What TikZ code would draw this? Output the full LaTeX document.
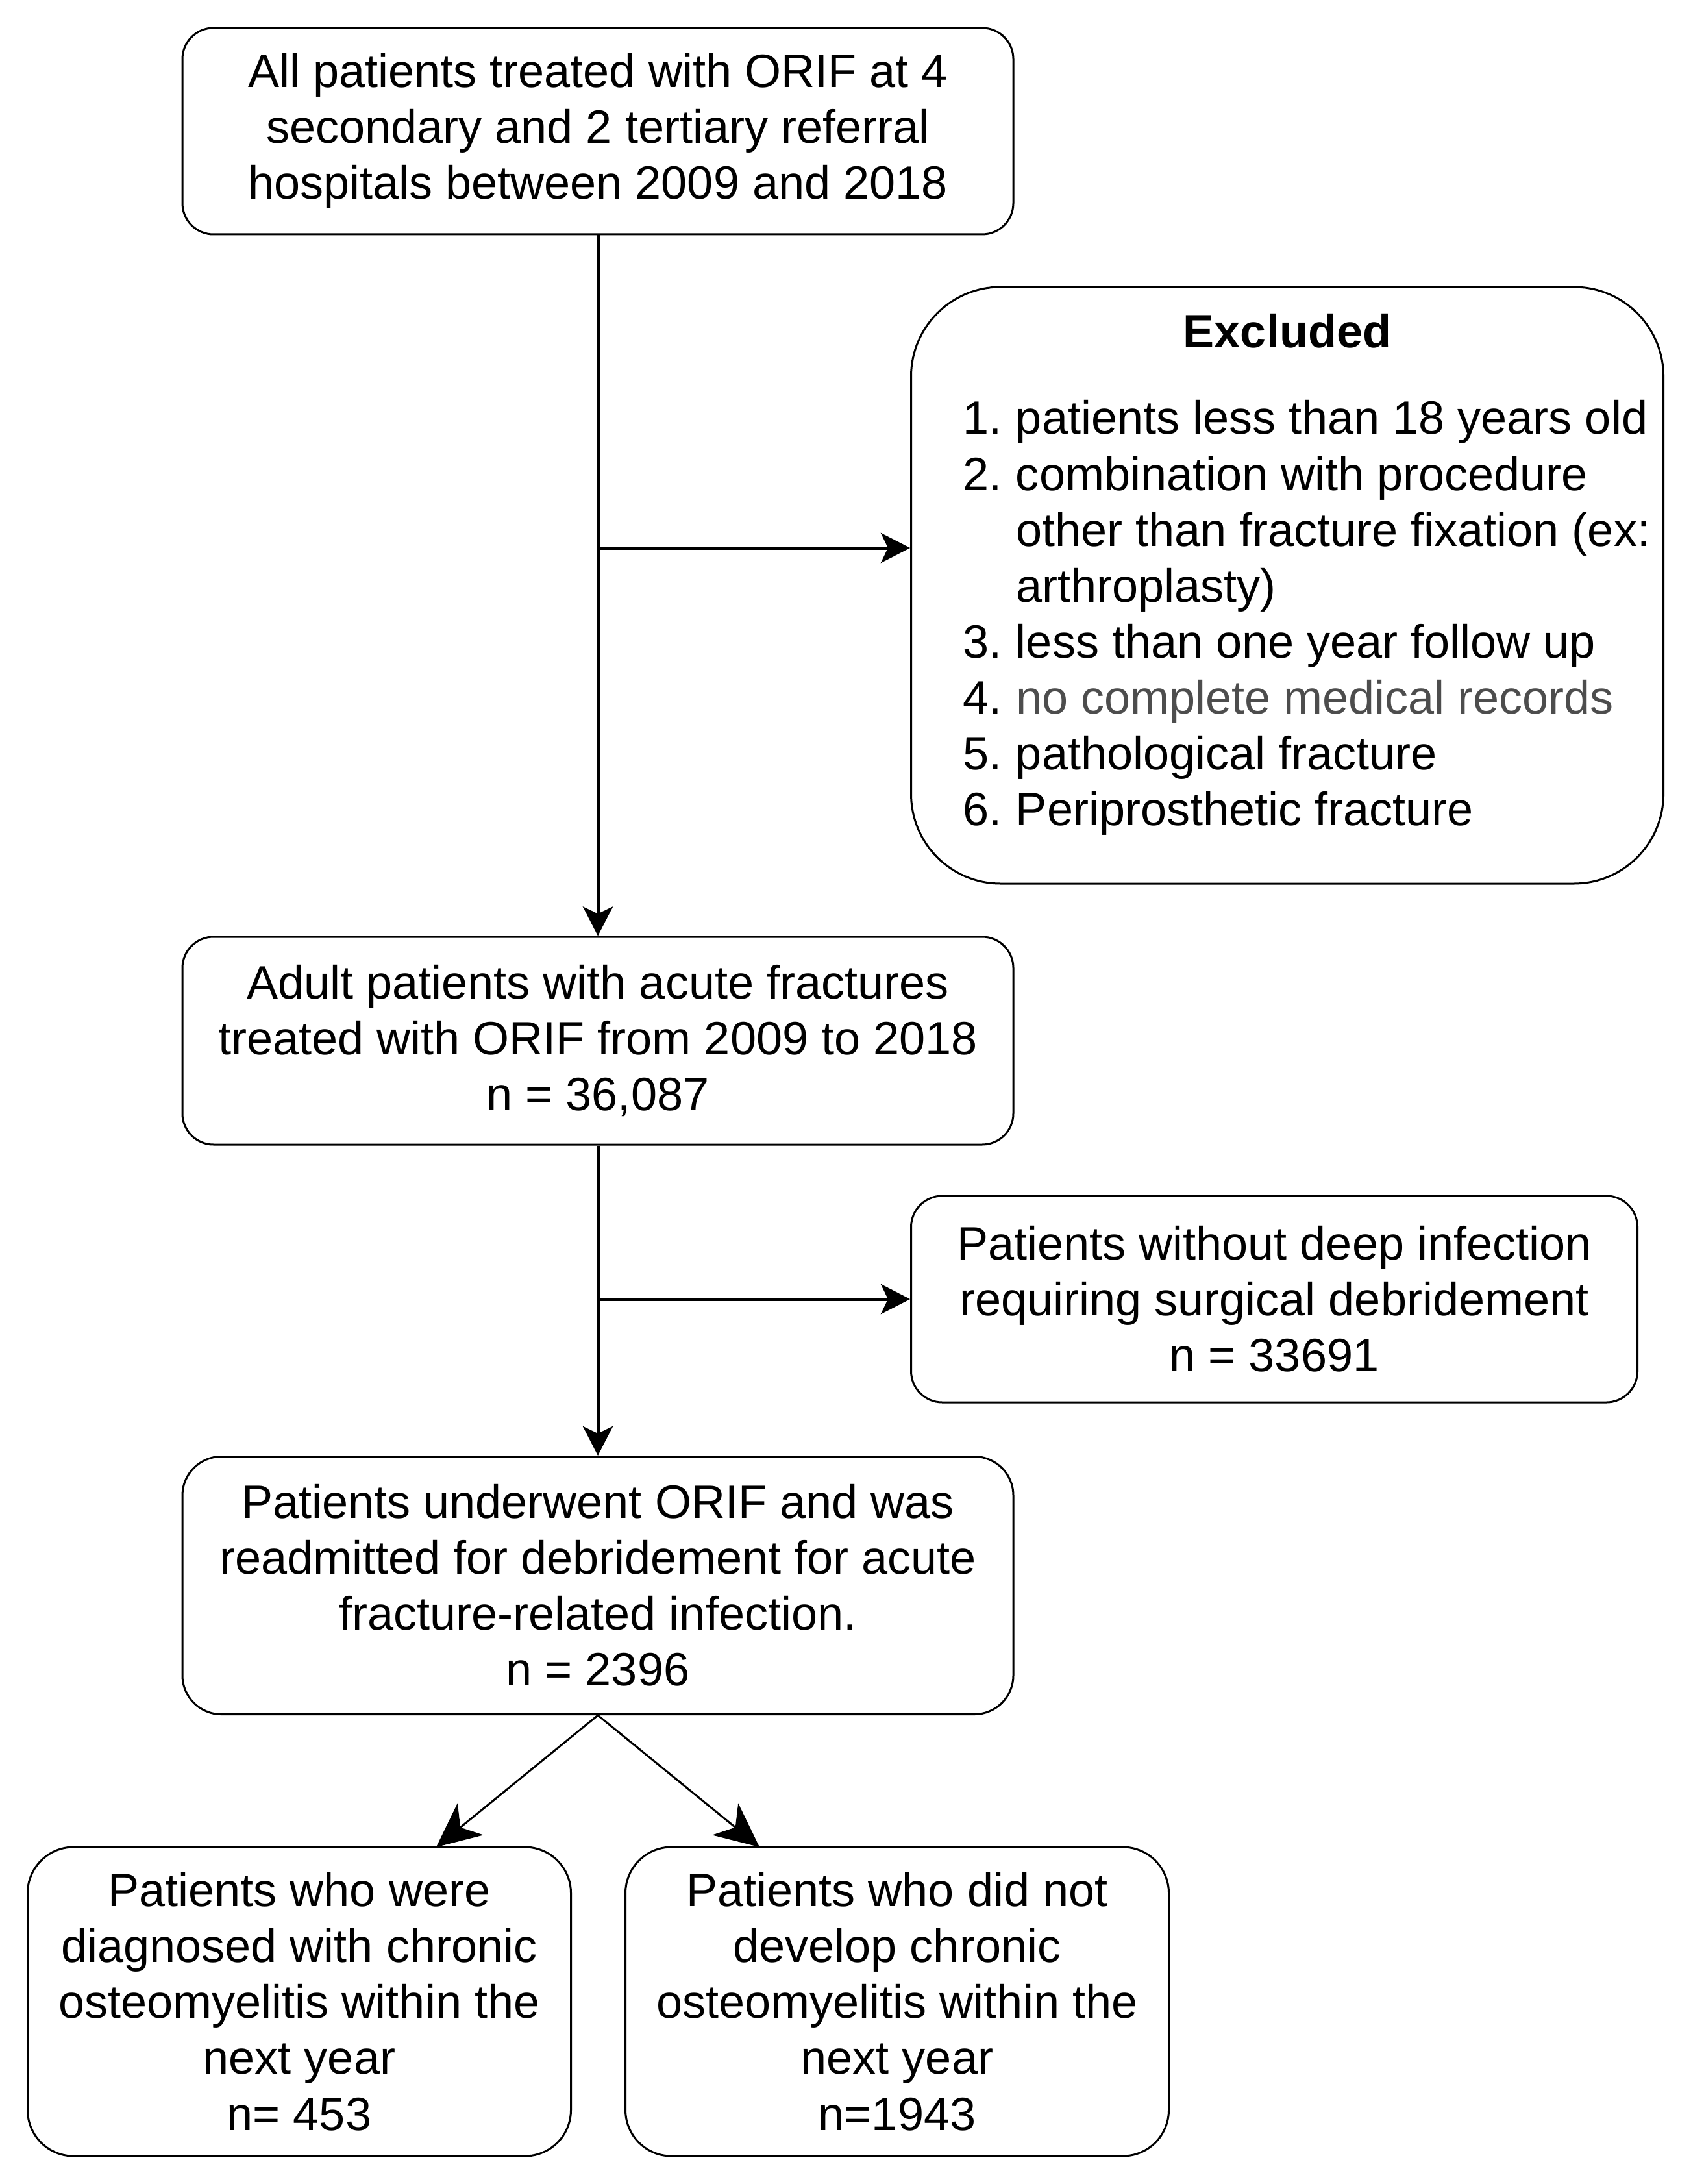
\documentclass[tikz,border=0pt]{standalone}
\usepackage{fontspec}
\setmainfont{Liberation Sans}
\usepackage{xcolor}
\usetikzlibrary{arrows.meta}
\definecolor{recgray}{HTML}{4D4D4D}

\begin{document}
\begin{tikzpicture}[->,>={Stealth[length=4.5mm,width=4.6mm,inset=1.1mm]},roundedbox/.style={rectangle,draw,line width=0.3mm,align=center,inner sep=0pt,font=\fontsize{20.5}{24.5}\selectfont},flowline/.style={line width=0.5mm},splitline/.style={line width=0.3mm,-{Stealth[length=6.8mm,width=6.3mm,inset=2mm]}}]
	
	\useasboundingbox (0,0) rectangle (26.04,-33.64);
	
	\node [roundedbox, rounded corners=4.8mm, minimum width=12.8cm, minimum height=3.18cm] (0) at (9.21, -2.02) {All patients treated with ORIF at 4\\secondary and 2 tertiary referral\\hospitals between 2009 and 2018};
	\node [roundedbox, rounded corners=13.8mm, minimum width=11.59cm, minimum height=9.19cm] (1) at (19.83, -9.015) {\hspace{0.6cm}\begin{tabular}{@{}r@{\hspace{6pt}}l@{}}
		\multicolumn{2}{c}{\bfseries Excluded\hspace{0.6cm}\null}\\[0.47cm]
		1. & patients less than 18 years old\\
		2. & combination with procedure\\
		   & other than fracture fixation (ex:\\
		   & arthroplasty)\\
		3. & less than one year follow up\\
		4. & \textcolor{recgray}{no complete medical records}\\
		5. & pathological fracture\\
		6. & Periprosthetic fracture\\[0.3cm]
	\end{tabular}};
	\node [roundedbox, rounded corners=4.8mm, minimum width=12.8cm, minimum height=3.2cm] (2) at (9.21, -16.03) {Adult patients with acute fractures\\treated with ORIF from 2009 to 2018\\n = 36,087};
	\node [roundedbox, rounded corners=4.8mm, minimum width=11.19cm, minimum height=3.18cm] (3) at (19.63, -20.01) {Patients without deep infection\\requiring surgical debridement\\n = 33691};
	\node [roundedbox, rounded corners=6mm, minimum width=12.8cm, minimum height=3.97cm] (4) at (9.21, -24.42) {Patients underwent ORIF and was\\readmitted for debridement for acute\\fracture-related infection.\\n = 2396};
	\node [roundedbox, rounded corners=7.1mm, minimum width=8.37cm, minimum height=4.76cm] (5) at (4.61, -30.83) {Patients who were\\diagnosed with chronic\\osteomyelitis within the\\next year\\n= 453};
	\node [roundedbox, rounded corners=7.1mm, minimum width=8.37cm, minimum height=4.76cm] (6) at (13.82, -30.83) {Patients who did not\\develop chronic\\osteomyelitis within the\\next year\\n=1943};
	
	\coordinate (0b) at (9.21, -8.44);
	\coordinate (2b) at (9.21, -20.01);
	\coordinate (5b) at (6.72, -28.45);
	\coordinate (6b) at (11.70, -28.45);
	
	\draw[flowline] (0) to (2);
	\draw[flowline] (0b) to (0b -| 1.west);
	\draw[flowline] (2) to (4);
	\draw[flowline] (2b) to (3.west);
	\draw[splitline] (4.south) to (5b);
	\draw[splitline] (4.south) to (6b);

\end{tikzpicture}
\end{document}
